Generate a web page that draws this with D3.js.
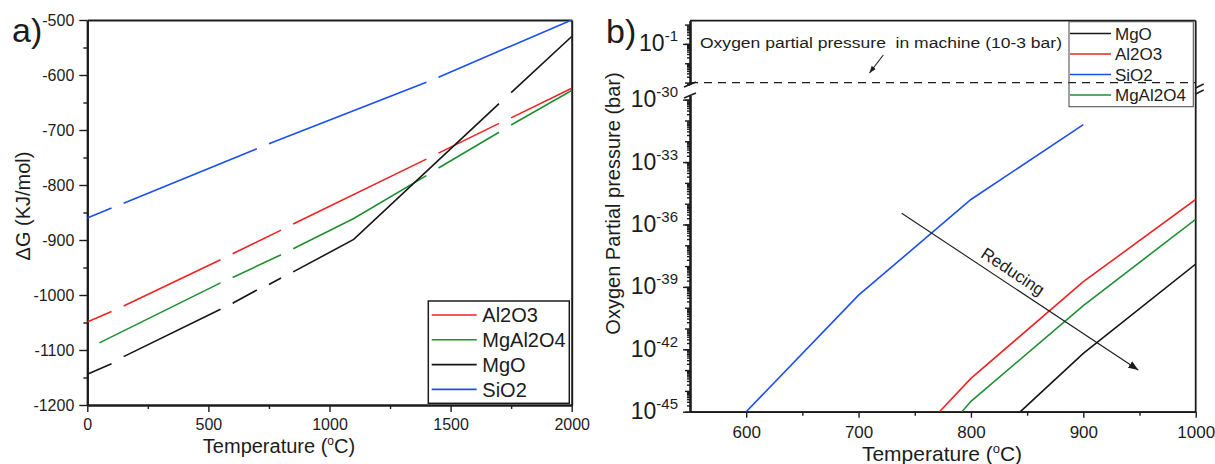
<!DOCTYPE html>
<html>
<head>
<meta charset="utf-8">
<script src="https://cdn.jsdelivr.net/npm/d3@7"></script>
<style>
  body { margin: 0; background: #fff; }
  svg { display: block; }
  text { font-family: "Liberation Sans", Arial, sans-serif; fill: #1c1c1c; }
</style>
</head>
<body>
<svg id="chart" width="1215" height="464"></svg>
<script>
// ---------------- Panel a: ΔG of formation vs temperature ----------------
// [temperature °C, ΔG kJ/mol]; a null value marks a break in the tabulated data
const dgAl2O3 = [[0,-1049],[100,-1030],[125,null],[150,-1020],[550,-936],[575,null],[600,-925],
                 [800,-882],[825,null],[850,-871],[1400,-753],[1425,null],[1450,-742],
                 [1700,-688],[1725,null],[1750,-678],[2000,-624]];
const dgMgAl2O4 = [[50,-1087],[550,-978],[575,null],[600,-968],[800,-927],[825,null],[850,-916],
                   [1100,-861],[1400,-783],[1425,null],[1450,-769],[1700,-704],[1725,null],
                   [1750,-691],[2000,-628]];
const dgMgO = [[0,-1144],[100,-1125],[125,null],[150,-1112],[550,-1026],[575,null],[600,-1015],
               [700,-991],[725,null],[750,-981],[800,-969],[825,null],[850,-958],[1100,-899],
               [1700,-652],[1725,null],[1750,-632],[2000,-530]];
const dgSiO2 = [[0,-860],[100,-842],[125,null],[150,-833],[700,-734],[725,null],[750,-725],
                [1400,-613],[1425,null],[1450,-604],[2000,-500]];

const legendOrderA = ["Al2O3","MgAl2O4","MgO","SiO2"];
const tempTicksA = [0,500,1000,1500,2000];
const tempMinorTicksA = [250,750,1250,1750];
const dgTicks = [-1200,-1100,-1000,-900,-800,-700,-600,-500];
const dgMinorTicks = [-1150,-1050,-950,-850,-750,-650,-550];

// ---------------- Panel b: equilibrium oxygen partial pressure ----------------
// [temperature °C, log10(pO2 / bar)]
const logPO2MgO = [[844,-45],[900,-42.2],[1000,-37.9]];
const logPO2Al2O3 = [[772,-45],[800,-43.4],[900,-38.75],[1000,-34.8]];
const logPO2SiO2 = [[600,-45],[700,-39.4],[800,-34.8],[900,-31.2]];
const logPO2MgAl2O4 = [[792,-45],[800,-44.5],[900,-39.9],[1000,-35.75]];
const machineLogPO2 = -3;

const legendOrderB = ["MgO","Al2O3","SiO2","MgAl2O4"];
const tempTicksB = [600,700,800,900,1000];
const tempMinorTicksB = [650,750,850,950];
const lowerLabelExps = [-45,-42,-39,-36,-33,-30];
const upperLabelExps = [-1];

const colors = { Al2O3: "#f02222", MgAl2O4: "#1f8f33", MgO: "#161616", SiO2: "#1c4ff0" };
const INK = "#1c1c1c";
const FONT = '"Liberation Sans", Arial, sans-serif';

const svg = d3.select("#chart");
const defs = svg.append("defs");

function styleAxis(g, width, size) {
  g.attr("font-family", FONT).attr("font-size", size);
  g.select(".domain").attr("stroke", INK).attr("stroke-width", width);
  g.selectAll(".tick line").attr("stroke", INK).attr("stroke-width", 1.4);
  g.selectAll(".tick text").attr("fill", INK);
  return g;
}

// ======================= panel a =======================
const ax = d3.scaleLinear().domain([0, 2000]).range([87.3, 571.7]);
const ay = d3.scaleLinear().domain([-1200, -500]).range([405, 20]);
const gA = svg.append("g");

defs.append("clipPath").attr("id", "clipA").append("rect")
  .attr("x", ax(0)).attr("y", ay(-500)).attr("width", ax(2000) - ax(0)).attr("height", ay(-1200) - ay(-500));

// frame: top and right
styleAxis(gA.append("g").attr("transform", `translate(0,${ay(-500)})`)
  .call(d3.axisTop(ax).tickValues([]).tickSizeOuter(0)), 2, 16);
styleAxis(gA.append("g").attr("transform", `translate(${ax(2000)},0)`)
  .call(d3.axisRight(ay).tickValues([]).tickSizeOuter(0)), 2, 16);

// bottom axis
styleAxis(gA.append("g").attr("transform", `translate(0,${ay(-1200)})`)
  .call(d3.axisBottom(ax).tickValues(tempMinorTicksA).tickSize(4).tickFormat("").tickSizeOuter(0)), 2, 16);
styleAxis(gA.append("g").attr("transform", `translate(0,${ay(-1200)})`)
  .call(d3.axisBottom(ax).tickValues(tempTicksA).tickSize(7).tickPadding(7).tickSizeOuter(0)
    .tickFormat(d3.format("d"))), 2, 16);

// left axis
styleAxis(gA.append("g").attr("transform", `translate(${ax(0)},0)`)
  .call(d3.axisLeft(ay).tickValues(dgMinorTicks).tickSize(4).tickFormat("").tickSizeOuter(0)), 2, 16);
styleAxis(gA.append("g").attr("transform", `translate(${ax(0)},0)`)
  .call(d3.axisLeft(ay).tickValues(dgTicks).tickSize(8).tickPadding(5).tickSizeOuter(0)
    .tickFormat(d => String(d).replace("\u2212", "-"))), 2, 16);

// curves
const lineA = d3.line().defined(d => d[1] !== null).x(d => ax(d[0])).y(d => ay(d[1]));
const seriesA = { Al2O3: dgAl2O3, MgAl2O4: dgMgAl2O4, MgO: dgMgO, SiO2: dgSiO2 };
const curvesA = gA.append("g").attr("clip-path", "url(#clipA)");
Object.entries(seriesA).forEach(([name, data]) => {
  curvesA.append("path").attr("d", lineA(data)).attr("fill", "none")
    .attr("stroke", colors[name]).attr("stroke-width", 1.6);
});

// legend a
const legA = gA.append("g");
legA.append("rect").attr("x", 428.3).attr("y", 301).attr("width", 141).attr("height", 102.3)
  .attr("fill", "#fff").attr("stroke", INK).attr("stroke-width", 1.5);
legendOrderA.forEach((name, i) => {
  const y = 315 + i * 24.8;
  legA.append("line").attr("x1", 431.7).attr("x2", 476.7).attr("y1", y).attr("y2", y)
    .attr("stroke", colors[name]).attr("stroke-width", 1.6);
  legA.append("text").attr("x", 482.3).attr("y", y).attr("dy", "0.36em")
    .attr("font-size", 20).text(name);
});

// titles a
gA.append("text").attr("x", 12).attr("y", 42).attr("font-size", 34).text("a)");
const xtA = gA.append("text").attr("x", 279).attr("y", 453).attr("font-size", 20).attr("text-anchor", "middle");
xtA.append("tspan").text("Temperature (");
xtA.append("tspan").attr("font-size", 12).attr("dy", -8).text("o");
xtA.append("tspan").attr("dy", 8).text("C)");
gA.append("text").attr("transform", "translate(30,206) rotate(-90)")
  .attr("font-size", 20).attr("text-anchor", "middle").text("\u0394G (KJ/mol)");

// ======================= panel b =======================
const bx = d3.scaleLinear().domain([550, 1000]).range([690, 1195.7]);
const byLow = d3.scaleLog().domain([1e-45, Math.pow(10, -29.8)]).range([411.7, 95.5]);
const byUp = d3.scaleLog().domain([Math.pow(10, -3.1), Math.pow(10, 0.2)]).range([84.5, 20.7]);
const gB = svg.append("g");

defs.append("clipPath").attr("id", "clipB").append("rect")
  .attr("x", bx(550)).attr("y", byLow.range()[1]).attr("width", bx(1000) - bx(550))
  .attr("height", byLow.range()[0] - byLow.range()[1]);

// decade and sub-decade tick positions for a log segment
function logTicks(lo, hi) {
  const decades = [], minors = [];
  for (let k = Math.ceil(lo); k <= Math.floor(hi); k++) decades.push(Math.pow(10, k));
  for (let k = Math.floor(lo); k <= Math.floor(hi); k++) {
    for (let m = 2; m <= 9; m++) {
      const e = k + Math.log10(m);
      if (e >= lo && e <= hi) minors.push(m * Math.pow(10, k));
    }
  }
  return { decades, minors };
}

function drawLogSegment(scale, lo, hi, labelExps) {
  const t = logTicks(lo, hi);
  styleAxis(gB.append("g").attr("transform", `translate(${bx(550)},0)`)
    .call(d3.axisLeft(scale).tickValues(t.minors).tickSize(3).tickFormat("").tickSizeOuter(0)), 1.8, 16);
  styleAxis(gB.append("g").attr("transform", `translate(${bx(550)},0)`)
    .call(d3.axisLeft(scale).tickValues(t.decades).tickSize(5).tickFormat("").tickSizeOuter(0)), 1.8, 16);
  const labelled = gB.append("g").attr("transform", `translate(${bx(550)},0)`)
    .call(d3.axisLeft(scale).tickValues(labelExps.map(e => Math.pow(10, e))).tickSize(7)
      .tickSizeOuter(0).tickFormat(""));
  styleAxis(labelled, 1.8, 16);
  labelled.selectAll(".tick").each(function (d, i) {
    const e = labelExps[i];
    const txt = d3.select(this).select("text").attr("x", -12).attr("dy", null).attr("y", 7)
      .attr("font-size", 23).attr("text-anchor", "end");
    txt.append("tspan").text("10");
    txt.append("tspan").attr("font-size", 15).attr("dy", -10).text(String(e));
  });
}
drawLogSegment(byLow, -45, -29.8, lowerLabelExps);
drawLogSegment(byUp, -3.1, 0.2, upperLabelExps);

// frame: top and right
gB.append("line").attr("x1", bx(550)).attr("x2", bx(1000)).attr("y1", byUp.range()[1]).attr("y2", byUp.range()[1])
  .attr("stroke", INK).attr("stroke-width", 1.8);
gB.append("line").attr("x1", bx(1000)).attr("x2", bx(1000)).attr("y1", byUp.range()[1]).attr("y2", byLow.range()[0])
  .attr("stroke", INK).attr("stroke-width", 1.8);

// axis break marks
[byUp.range()[0], byLow.range()[1]].forEach(y => {
  gB.append("line").attr("x1", bx(550) - 6).attr("x2", bx(550) + 6).attr("y1", y + 2.5).attr("y2", y - 2.5)
    .attr("stroke", INK).attr("stroke-width", 1.6);
});
[86, 92].forEach(y => {
  gB.append("line").attr("x1", bx(1000)).attr("x2", bx(1000) + 8).attr("y1", y + 2).attr("y2", y - 2)
    .attr("stroke", INK).attr("stroke-width", 1.4);
});

// bottom axis
styleAxis(gB.append("g").attr("transform", `translate(0,${byLow.range()[0]})`)
  .call(d3.axisBottom(bx).tickValues(tempMinorTicksB).tickSize(4).tickFormat("").tickSizeOuter(0)), 1.8, 17);
styleAxis(gB.append("g").attr("transform", `translate(0,${byLow.range()[0]})`)
  .call(d3.axisBottom(bx).tickValues(tempTicksB).tickSize(6).tickPadding(8).tickSizeOuter(0)
    .tickFormat(d3.format("d"))), 1.8, 17);

// machine oxygen partial pressure
gB.append("line").attr("x1", bx(550)).attr("x2", bx(1000))
  .attr("y1", byUp(Math.pow(10, machineLogPO2))).attr("y2", byUp(Math.pow(10, machineLogPO2)))
  .attr("stroke", INK).attr("stroke-width", 1.3).attr("stroke-dasharray", "8,6");

// curves
const lineB = d3.line().x(d => bx(d[0])).y(d => byLow(Math.pow(10, d[1])));
const seriesB = { MgO: logPO2MgO, Al2O3: logPO2Al2O3, SiO2: logPO2SiO2, MgAl2O4: logPO2MgAl2O4 };
const curvesB = gB.append("g").attr("clip-path", "url(#clipB)");
Object.entries(seriesB).forEach(([name, data]) => {
  curvesB.append("path").attr("d", lineB(data)).attr("fill", "none")
    .attr("stroke", colors[name]).attr("stroke-width", 1.6);
});

// legend b
const legB = gB.append("g");
legB.append("rect").attr("x", 1069).attr("y", 21.7).attr("width", 124.3).attr("height", 85)
  .attr("fill", "none").attr("stroke", "#555").attr("stroke-width", 1.1);
legendOrderB.forEach((name, i) => {
  const y = 33.5 + i * 20.5;
  legB.append("line").attr("x1", 1070).attr("x2", 1111).attr("y1", y).attr("y2", y)
    .attr("stroke", colors[name]).attr("stroke-width", 1.6);
  legB.append("text").attr("x", 1115).attr("y", y).attr("dy", "0.36em")
    .attr("font-size", 17).text(name);
});

// arrow heads
defs.append("marker").attr("id", "headBig").attr("viewBox", "0 0 10 8").attr("refX", 10).attr("refY", 4)
  .attr("markerUnits", "userSpaceOnUse").attr("markerWidth", 10).attr("markerHeight", 8).attr("orient", "auto")
  .append("path").attr("d", "M0,0L10,4L0,8Z").attr("fill", INK);
defs.append("marker").attr("id", "headSmall").attr("viewBox", "0 0 8 6").attr("refX", 8).attr("refY", 3)
  .attr("markerUnits", "userSpaceOnUse").attr("markerWidth", 7).attr("markerHeight", 6).attr("orient", "auto")
  .append("path").attr("d", "M0,0L8,3L0,6Z").attr("fill", INK);

// annotations
gB.append("text").attr("x", 700).attr("y", 48).attr("font-family", '"Open Sans", sans-serif')
  .attr("font-size", 15.5).attr("textLength", 362).attr("lengthAdjust", "spacingAndGlyphs")
  .attr("xml:space", "preserve").style("white-space", "pre")
  .text("Oxygen partial pressure  in machine (10-3 bar)");
gB.append("line").attr("x1", 883.3).attr("y1", 55).attr("x2", 869.5).attr("y2", 73)
  .attr("stroke", INK).attr("stroke-width", 1.1).attr("marker-end", "url(#headSmall)");

gB.append("line").attr("x1", 901.7).attr("y1", 213.3).attr("x2", 1138.3).attr("y2", 370)
  .attr("stroke", INK).attr("stroke-width", 1.1).attr("marker-end", "url(#headBig)");
gB.append("text").attr("transform", "translate(901.7,213.3) rotate(33.5)")
  .attr("x", 124.9).attr("y", -7).attr("text-anchor", "middle")
  .attr("font-family", '"Open Sans", sans-serif').attr("font-size", 17).text("Reducing");

// titles b
gB.append("text").attr("x", 606).attr("y", 43).attr("font-size", 34).text("b)");
const xtB = gB.append("text").attr("x", 942).attr("y", 461).attr("font-size", 21).attr("text-anchor", "middle");
xtB.append("tspan").text("Temperature (");
xtB.append("tspan").attr("font-size", 13).attr("dy", -8).text("o");
xtB.append("tspan").attr("dy", 8).text("C)");
gB.append("text").attr("transform", "translate(620,203.5) rotate(-90)")
  .attr("font-size", 20).attr("text-anchor", "middle").text("Oxygen Partial pressure (bar)");
</script>
</body>
</html>
